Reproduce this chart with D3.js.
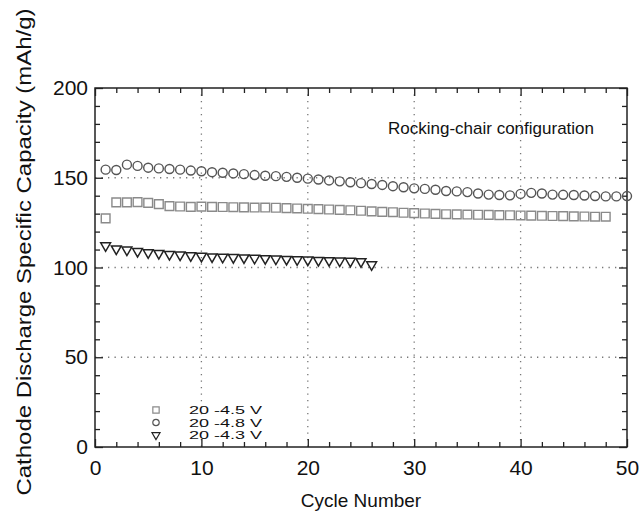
<!DOCTYPE html>
<html>
<head>
<meta charset="utf-8">
<script src="https://cdn.jsdelivr.net/npm/d3@7"></script>
<style>
  body { margin: 0; background: #fff; }
  svg text { font-family: "Liberation Sans", Arial, Helvetica, sans-serif; }
</style>
</head>
<body>
<svg id="chart" width="641" height="518"></svg>
<script>
// cycle number -> capacity
const cycles45 = d3.range(1, 49);
const cap45 = [127.4, 136.3, 136.3, 136.4, 136, 135.3, 134.2, 134, 133.8, 133.9,
  133.8, 133.7, 133.6, 133.5, 133.4, 133.4, 133.3, 133.1, 132.9, 132.7,
  132.5, 132.3, 132.1, 131.9, 131.6, 131.3, 131, 130.8, 130.5, 130.3,
  130.1, 129.9, 129.7, 129.6, 129.5, 129.4, 129.3, 129.2, 129.1, 129,
  128.9, 128.8, 128.7, 128.6, 128.5, 128.4, 128.3, 128.3];

const cycles48 = d3.range(1, 51);
const cap48 = [154.5, 154.3, 157.3, 156.6, 155.6, 155.2, 154.9, 154.5, 154, 153.6,
  153.1, 152.8, 152.4, 152, 151.5, 151.1, 150.9, 150.5, 150, 149.5,
  149, 148.5, 148, 147.5, 147, 146.5, 146, 145.3, 144.7, 144.1,
  143.8, 143.3, 142.6, 142.4, 142, 141.2, 140.6, 140.4, 140.2, 141,
  141.6, 141.2, 140.6, 140.5, 140.4, 140.1, 139.8, 139.6, 139.6, 139.8];

const cycles43 = d3.range(1, 27);
const cap43 = [112.2, 110.4, 109.8, 109, 108.3, 107.9, 107.3, 107, 106.6, 106.3,
  106, 105.8, 105.6, 105.4, 105.2, 105, 104.8, 104.6, 104.4, 104.2,
  104, 103.9, 103.7, 103.5, 103.3, 101.6];

const legendLabels = ["20 -4.5 V", "20 -4.8 V", "20 -4.3 V"];
const xTicks = [0, 10, 20, 30, 40, 50];
const yTicks = [0, 50, 100, 150, 200];

const svg = d3.select("#chart");
const margin = { top: 88, right: 14, bottom: 71, left: 95 };
const width = 641 - margin.left - margin.right;
const height = 518 - margin.top - margin.bottom;

const x = d3.scaleLinear().domain([0, 50]).range([0, width]);
const y = d3.scaleLinear().domain([0, 200]).range([height, 0]);

const g = svg.append("g").attr("transform", `translate(${margin.left},${margin.top})`);

// dotted grid
g.selectAll(".vgrid").data([10, 20, 30, 40]).enter().append("line")
  .attr("x1", d => x(d)).attr("x2", d => x(d))
  .attr("y1", 0).attr("y2", height)
  .attr("stroke", "#777").attr("stroke-width", 1.3)
  .attr("stroke-dasharray", "1.3,5.2");
g.selectAll(".hgrid").data([50, 100, 150]).enter().append("line")
  .attr("x1", 0).attr("x2", width)
  .attr("y1", d => y(d)).attr("y2", d => y(d))
  .attr("stroke", "#777").attr("stroke-width", 1.3)
  .attr("stroke-dasharray", "1.3,5.2");

// axes, ticks pointing inward on all four sides
const minorX = d3.range(0, 51, 2).filter(d => d % 10 !== 0);
const minorY = d3.range(0, 201, 10).filter(d => d % 50 !== 0);

function styleAxis(sel) {
  sel.select(".domain").remove();
  sel.selectAll("line").attr("stroke", "#222").attr("stroke-width", 1.3);
  sel.selectAll("text").attr("fill", "#111").attr("font-size", "21px");
}

g.append("g").attr("transform", `translate(0,${height})`)
  .call(d3.axisBottom(x).tickValues(xTicks).tickSize(-8).tickPadding(14))
  .call(styleAxis)
  .selectAll("text").attr("dy", "0.71em").attr("y", 13);
g.append("g").attr("transform", `translate(0,${height})`)
  .call(d3.axisBottom(x).tickValues(minorX).tickSize(-5).tickFormat(""))
  .call(styleAxis);
g.append("g")
  .call(d3.axisTop(x).tickValues(xTicks).tickSize(-8).tickFormat(""))
  .call(styleAxis);
g.append("g")
  .call(d3.axisTop(x).tickValues(minorX).tickSize(-5).tickFormat(""))
  .call(styleAxis);

g.append("g")
  .call(d3.axisLeft(y).tickValues(yTicks).tickSize(-8).tickPadding(4))
  .call(styleAxis)
  .selectAll("text").attr("x", -7);
g.append("g")
  .call(d3.axisLeft(y).tickValues(minorY).tickSize(-5).tickFormat(""))
  .call(styleAxis);
g.append("g").attr("transform", `translate(${width},0)`)
  .call(d3.axisRight(y).tickValues(yTicks).tickSize(-8).tickFormat(""))
  .call(styleAxis);
g.append("g").attr("transform", `translate(${width},0)`)
  .call(d3.axisRight(y).tickValues(minorY).tickSize(-5).tickFormat(""))
  .call(styleAxis);

g.append("rect")
  .attr("width", width).attr("height", height)
  .attr("fill", "none").attr("stroke", "#222").attr("stroke-width", 1.5);

// markers
const sq = d3.symbol().type(d3.symbolSquare).size(76);
const tri = d3.symbol().type(d3.symbolTriangle).size(42);

const data45 = cycles45.map((c, i) => ({ x: c, y: cap45[i] }));
const data48 = cycles48.map((c, i) => ({ x: c, y: cap48[i] }));
const data43 = cycles43.map((c, i) => ({ x: c, y: cap43[i] }));

g.append("g").selectAll("path").data(data45).enter().append("path")
  .attr("d", sq)
  .attr("transform", d => `translate(${x(d.x)},${y(d.y)})`)
  .attr("fill", "none").attr("stroke", "#8a8a8a").attr("stroke-width", 1.4);

g.append("g").selectAll("circle").data(data48).enter().append("circle")
  .attr("cx", d => x(d.x)).attr("cy", d => y(d.y)).attr("r", 4.5)
  .attr("fill", "none").attr("stroke", "#555").attr("stroke-width", 1.4);

g.append("g").selectAll("path").data(data43).enter().append("path")
  .attr("d", tri)
  .attr("transform", d => `translate(${x(d.x)},${y(d.y)}) rotate(180)`)
  .attr("fill", "none").attr("stroke", "#222").attr("stroke-width", 1.5);

// legend
const legend = svg.append("g").attr("transform", "translate(156,410)");
legendLabels.forEach((lab, i) => {
  const row = legend.append("g").attr("transform", `translate(0,${i * 12.5})`);
  if (i === 0) {
    row.append("path").attr("d", d3.symbol().type(d3.symbolSquare).size(40))
      .attr("fill", "none").attr("stroke", "#8a8a8a").attr("stroke-width", 1.2);
  } else if (i === 1) {
    row.append("circle").attr("r", 3.2)
      .attr("fill", "none").attr("stroke", "#555").attr("stroke-width", 1.2);
  } else {
    row.append("path").attr("d", d3.symbol().type(d3.symbolTriangle).size(28))
      .attr("transform", "rotate(180)")
      .attr("fill", "none").attr("stroke", "#222").attr("stroke-width", 1.2);
  }
  row.append("text").attr("x", 33).attr("y", 4.2)
    .attr("font-size", "11px").attr("fill", "#111")
    .attr("textLength", 73).attr("lengthAdjust", "spacingAndGlyphs")
    .text(lab);
});

// annotation
svg.append("text").attr("x", 388).attr("y", 134)
  .attr("font-size", "17px").attr("fill", "#111")
  .text("Rocking-chair configuration");

// axis titles
svg.append("text").attr("x", margin.left + width / 2).attr("y", 507)
  .attr("text-anchor", "middle").attr("font-size", "19px").attr("fill", "#111")
  .text("Cycle Number");
svg.append("text")
  .attr("transform", `translate(31,252) rotate(-90)`)
  .attr("text-anchor", "middle").attr("font-size", "20px").attr("fill", "#111")
  .attr("textLength", 487).attr("lengthAdjust", "spacingAndGlyphs")
  .text("Cathode Discharge Specific Capacity (mAh/g)");
</script>
</body>
</html>
